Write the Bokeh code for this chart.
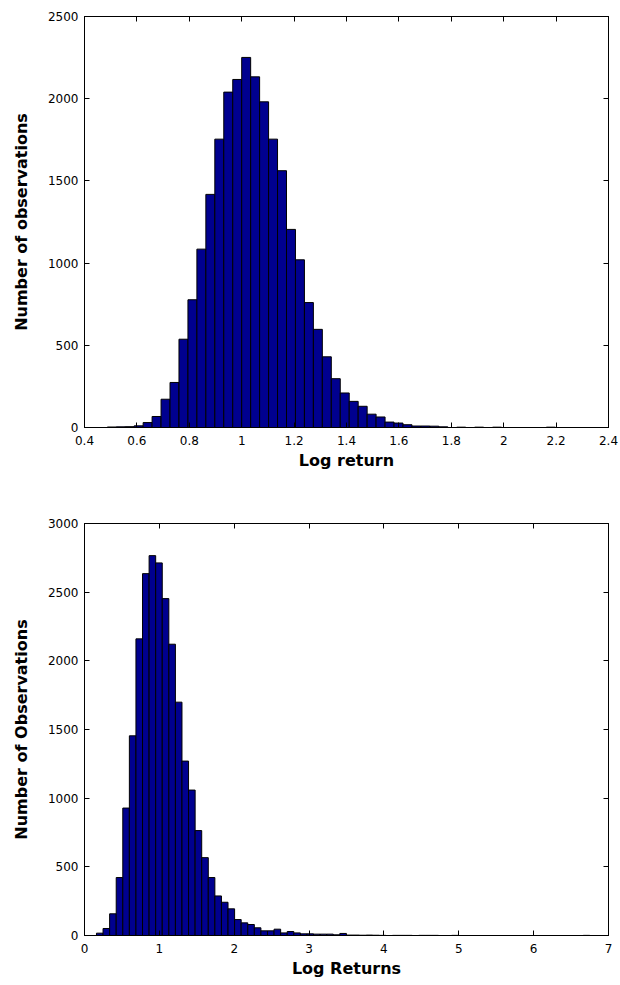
from bokeh.plotting import figure
from bokeh.models import Range1d, FixedTicker, LinearAxis, ColumnDataSource, CustomJSTickFormatter
from bokeh.layouts import column
from bokeh.embed import file_html
from bokeh.resources import INLINE
import numpy as np

# ---------------- data: top histogram ----------------
top_bin_min = 0.487
top_bin_max = 2.197
top_counts = [3, 4, 5, 10, 30, 67, 172, 274, 537, 777,
              1085, 1418, 1754, 2040, 2117, 2251, 2133, 1981, 1754, 1562,
              1205, 1020, 760, 597, 430, 297, 210, 159, 129, 81,
              64, 33, 27, 17, 9, 9, 8, 4, 0, 2,
              0, 2, 0, 2, 0, 0, 0, 0, 0, 2]
top_xticks = [0.4, 0.6, 0.8, 1.0, 1.2, 1.4, 1.6, 1.8, 2.0, 2.2, 2.4]
top_xtick_labels = ["0.4", "0.6", "0.8", "1", "1.2", "1.4", "1.6", "1.8", "2", "2.2", "2.4"]
top_yticks = [0, 500, 1000, 1500, 2000, 2500]
top_xlabel = "Log return"
top_ylabel = "Number of observations"

# ---------------- data: bottom histogram ----------------
bot_bin_min = 0.16
bot_bin_max = 6.75
bot_counts = [17, 51, 158, 422, 928, 1454, 2160, 2635, 2766, 2713,
              2453, 2121, 1699, 1270, 1059, 764, 567, 422, 288, 242,
              194, 116, 92, 80, 56, 34, 34, 46, 19, 29,
              19, 12, 12, 10, 10, 10, 5, 15, 3, 3,
              2, 3, 2, 1, 0, 1, 1, 1, 0, 1,
              1, 1, 0, 0, 1, 0, 0, 0, 0, 0,
              0, 0, 0, 0, 0, 0, 0, 0, 0, 0,
              0, 0, 0, 0, 1]
bot_xticks = [0, 1, 2, 3, 4, 5, 6, 7]
bot_xtick_labels = ["0", "1", "2", "3", "4", "5", "6", "7"]
bot_yticks = [0, 500, 1000, 1500, 2000, 2500, 3000]
bot_xlabel = "Log Returns"
bot_ylabel = "Number of Observations"

FONT = "DejaVu Sans"
BAR = "#00008F"


def style_axis(ax):
    ax.major_tick_in = 5
    ax.major_tick_out = 0
    ax.minor_tick_in = 0
    ax.minor_tick_out = 0
    ax.axis_line_color = "#000000"
    ax.major_tick_line_color = "#000000"
    ax.major_label_text_font = FONT
    ax.major_label_text_font_size = "12px"
    ax.major_label_text_color = "#000000"
    ax.axis_label_text_font = FONT
    ax.axis_label_text_font_size = "16px"
    ax.axis_label_text_font_style = "bold"
    ax.axis_label_text_color = "#000000"


def make_hist(counts, bmin, bmax, xr, yr, xticks, xlabels, yticks,
              xlabel, ylabel, border_top, border_bottom, frame_h):
    n = len(counts)
    edges = np.linspace(bmin, bmax, n + 1)
    src = ColumnDataSource(dict(left=edges[:-1], right=edges[1:],
                                top=counts, bottom=[0] * n))
    p = figure(frame_width=524, frame_height=frame_h,
               x_range=Range1d(*xr), y_range=Range1d(*yr),
               output_backend="svg", toolbar_location=None,
               min_border_left=84, min_border_right=12,
               min_border_top=border_top, min_border_bottom=border_bottom)
    p.quad(left="left", right="right", top="top", bottom="bottom", source=src,
           fill_color=BAR, line_color="#000000", line_width=1)
    p.grid.visible = False
    p.outline_line_color = "#000000"
    p.outline_line_width = 1
    p.background_fill_color = "white"
    p.border_fill_color = "white"

    p.xaxis.ticker = FixedTicker(ticks=xticks)
    p.yaxis.ticker = FixedTicker(ticks=yticks)
    p.xaxis.major_label_overrides = {t: l for t, l in zip(xticks, xlabels)}
    p.xaxis.axis_label = xlabel
    p.yaxis.axis_label = ylabel
    for ax in p.xaxis:
        style_axis(ax)
        ax.major_label_standoff = 8
        ax.axis_label_standoff = 3
    for ax in p.yaxis:
        style_axis(ax)
        ax.major_label_standoff = 6
        ax.axis_label_standoff = 14

    blank = CustomJSTickFormatter(code="return '';")
    ax_top = LinearAxis(ticker=FixedTicker(ticks=xticks), formatter=blank)
    style_axis(ax_top)
    ax_top.major_label_standoff = 0
    p.add_layout(ax_top, "above")
    ax_right = LinearAxis(ticker=FixedTicker(ticks=yticks), formatter=blank)
    style_axis(ax_right)
    ax_right.major_label_standoff = 0
    p.add_layout(ax_right, "right")
    return p


p1 = make_hist(top_counts, top_bin_min, top_bin_max, (0.4, 2.4), (0, 2500),
               top_xticks, top_xtick_labels, top_yticks, top_xlabel, top_ylabel,
               border_top=16, border_bottom=56, frame_h=411)
p2 = make_hist(bot_counts, bot_bin_min, bot_bin_max, (0, 7), (0, 3000),
               bot_xticks, bot_xtick_labels, bot_yticks, bot_xlabel, bot_ylabel,
               border_top=40, border_bottom=40, frame_h=412)

layout = column(p1, p2, spacing=0)
open("out.html", "w").write(file_html(layout, INLINE))
